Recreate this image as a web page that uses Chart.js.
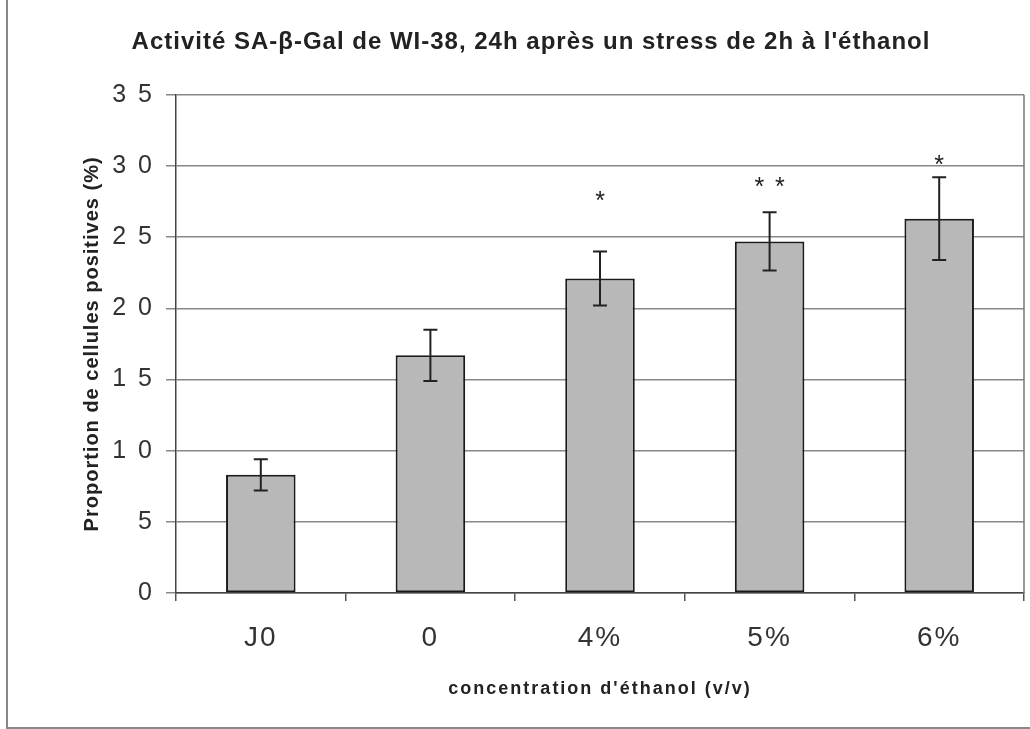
<!DOCTYPE html>
<html>
<head>
<meta charset="utf-8">
<script src="https://cdn.jsdelivr.net/npm/chart.js@4/dist/chart.umd.min.js"></script>
<style>
  body { margin: 0; background: #fff; }
  #wrap { position: relative; width: 1030px; height: 729px; }
  #frame { position: absolute; left: 6px; top: 0; width: 1024px; height: 727px;
           border-left: 2px solid #888; border-bottom: 2px solid #888; pointer-events: none; }
</style>
</head>
<body>
<div id="wrap">
  <canvas id="chartCanvas" width="1030" height="729"></canvas>
  <div id="frame"></div>
</div>
<script>
// données
const categories = ['J0', '0', '4%', '5%', '6%'];
const valeurs = [8.3, 16.7, 22.1, 24.7, 26.3];
const erreurs = [1.1, 1.8, 1.9, 2.05, 2.9];
const etoiles = ['', '', '*', '* *', '*'];
const etoilesY = [null, null, 27.9, 28.9, 30.4];
const yTicks = [0, 5, 10, 15, 20, 25, 30, 35];

// espacement des lettres (le scan est étiré horizontalement)
function espacer(obj, method, sp) {
    const orig = obj[method];
    obj[method] = function (...args) {
        const c = this.ctx;
        const prev = c.letterSpacing;
        c.letterSpacing = sp;
        orig.apply(this, args);
        c.letterSpacing = prev;
    };
}

const barresErreur = {
    id: 'barresErreur',
    afterLayout(chart) {
        if (chart._espace) return;
        chart._espace = true;
        espacer(chart.scales.y, 'drawLabels', '12px');
        espacer(chart.scales.y, 'drawTitle', '1px');
        espacer(chart.scales.x, 'drawLabels', '2px');
        espacer(chart.scales.x, 'drawTitle', '2px');
        if (chart.titleBlock) espacer(chart.titleBlock, 'draw', '1px');
    },
    afterDatasetsDraw(chart) {
        const ctx = chart.ctx;
        const y = chart.scales.y;
        const meta = chart.getDatasetMeta(0);
        ctx.save();
        // bord droit de la zone
        ctx.strokeStyle = '#777';
        ctx.lineWidth = 1.5;
        ctx.beginPath();
        ctx.moveTo(chart.chartArea.right, chart.chartArea.top);
        ctx.lineTo(chart.chartArea.right, chart.chartArea.bottom);
        ctx.stroke();

        ctx.strokeStyle = '#222';
        ctx.lineWidth = 2;
        meta.data.forEach((bar, i) => {
            const x = bar.x;
            const hi = y.getPixelForValue(valeurs[i] + erreurs[i]);
            const lo = y.getPixelForValue(valeurs[i] - erreurs[i]);
            ctx.beginPath();
            ctx.moveTo(x, hi); ctx.lineTo(x, lo);
            ctx.moveTo(x - 7, hi); ctx.lineTo(x + 7, hi);
            ctx.moveTo(x - 7, lo); ctx.lineTo(x + 7, lo);
            ctx.stroke();
        });

        ctx.fillStyle = '#222';
        ctx.font = '25px "Liberation Sans", Arial, sans-serif';
        ctx.textAlign = 'center';
        ctx.textBaseline = 'alphabetic';
        ctx.letterSpacing = '2px';
        meta.data.forEach((bar, i) => {
            if (!etoiles[i]) return;
            ctx.fillText(etoiles[i], bar.x + 1, y.getPixelForValue(etoilesY[i]) + 13);
        });
        ctx.restore();
    }
};

const ctx = document.getElementById('chartCanvas').getContext('2d');
const chart = new Chart(ctx, {
    type: 'bar',
    data: {
        labels: categories,
        datasets: [{
            data: valeurs,
            backgroundColor: '#b8b8b8',
            borderColor: '#1a1a1a',
            borderWidth: 2,
            borderSkipped: false,
            categoryPercentage: 1,
            barPercentage: 0.41
        }]
    },
    options: {
        responsive: false,
        animation: false,
        layout: { padding: { left: 38, right: 6, top: 0, bottom: 20 } },
        plugins: {
            legend: { display: false },
            tooltip: { enabled: false },
            title: {
                display: true,
                text: "Activité SA-β-Gal de WI-38, 24h après un stress de 2h à l'éthanol",
                color: '#222',
                font: { family: '"Liberation Sans", Arial, sans-serif', size: 24, weight: 'bold', lineHeight: 1.2 },
                padding: { top: 28, bottom: 38 }
            }
        },
        scales: {
            x: {
                grid: { display: true, drawOnChartArea: false, drawTicks: true, tickLength: 8, color: '#555', lineWidth: 1.5 },
                border: { color: '#444', width: 1.5 },
                ticks: { color: '#333', padding: 20, font: { family: '"Liberation Sans", Arial, sans-serif', size: 28 } },
                title: {
                    display: true,
                    text: "concentration d'éthanol (v/v)",
                    color: '#222',
                    font: { family: '"Liberation Sans", Arial, sans-serif', size: 18, weight: 'bold', lineHeight: 1.2 },
                    padding: { top: 0, bottom: 9 }
                },
                afterFit(scale) { scale.height = 116; }
            },
            y: {
                min: 0,
                max: 35,
                afterBuildTicks(scale) { scale.ticks = yTicks.map(v => ({ value: v })); },
                grid: { color: '#888', lineWidth: 1.5, tickLength: 10 },
                border: { color: '#444', width: 1.5 },
                ticks: { color: '#333', padding: 2, font: { family: '"Liberation Sans", Arial, sans-serif', size: 25 } },
                title: {
                    display: true,
                    text: 'Proportion de cellules positives (%)',
                    color: '#222',
                    font: { family: '"Liberation Sans", Arial, sans-serif', size: 20, weight: 'bold', lineHeight: 1.2 },
                    padding: { top: 42, bottom: 0 }
                },
                afterFit(scale) { scale.width = 138; }
            }
        }
    },
    plugins: [barresErreur]
});
chart.draw();
</script>
</body>
</html>
